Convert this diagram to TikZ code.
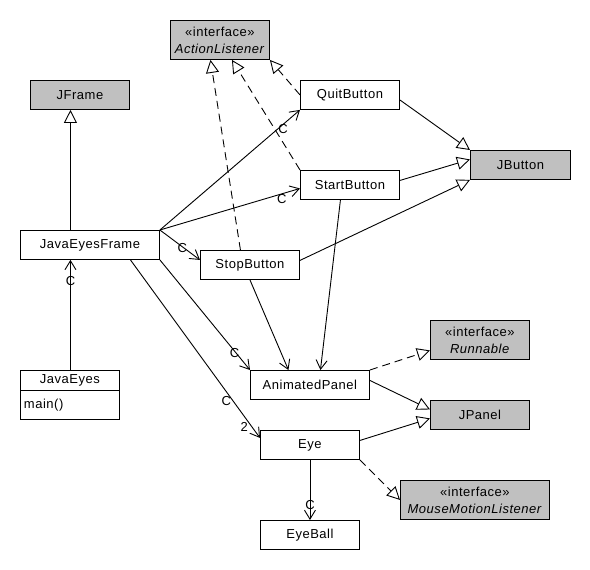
\documentclass[tikz,border=0pt]{standalone}
\usepackage{fontspec}
\setmainfont{Liberation Sans}[LetterSpace=4]
\usepackage{tikz}
\usetikzlibrary{arrows.meta,positioning}
\usepackage{xcolor}
\definecolor{umlgray}{RGB}{192,192,192}
\tikzstyle{cls} = [draw, line width=0.9pt, minimum width=99pt, minimum height=29pt, anchor=north west, inner sep=0pt, font=\fontsize{13}{15}\selectfont]
\tikzstyle{lib} = [cls, fill=umlgray]
\tikzstyle{iface} = [lib, minimum height=39pt, align=center, font=\fontsize{13}{17}\selectfont]
\tikzstyle{assoc} = [line width=0.9pt, -{Straight Barb[length=9pt,width=11pt]}]
\tikzstyle{inherit} = [line width=0.9pt, -{Triangle[open,length=13pt,width=13pt]}]
\tikzstyle{realize} = [inherit, dash pattern=on 8pt off 5pt]
\tikzstyle{mult} = [font=\fontsize{13}{13}\selectfont, inner sep=0pt]

\begin{document}
\begin{tikzpicture}[x=1pt, y=-1pt]
\useasboundingbox (0,0) rectangle (590,570);
% Classes
\node[lib] (jframe) at (30,80) {JFrame};
\node[iface] (listener) at (170,20) {«interface»\\\textit{ActionListener}};
\node[cls] (quit) at (300,80) {QuitButton};
\node[cls] (start) at (300,170) {StartButton};
\node[lib, minimum width=100pt] (jbutton) at (470,150) {JButton};
\node[cls, minimum width=139pt] (frame) at (20,230) {JavaEyesFrame};
\node[cls] (stop) at (200,250) {StopButton};
\node[cls, minimum height=20pt] (javaeyes) at (20,370) {JavaEyes};
\node[cls, text width=92pt, inner xsep=3.5pt, align=left] (javaeyesops) at (20,390) {main()};
\node[iface] (runnable) at (430,320) {«interface»\\\textit{Runnable}};
\node[cls, minimum width=119pt] (anim) at (250,370) {AnimatedPanel};
\node[lib] (jpanel) at (430,400) {JPanel};
\node[cls] (eye) at (260,430) {Eye};
\node[iface, minimum width=149pt] (mml) at (400,480) {«interface»\\\textit{MouseMotionListener}};
\node[cls] (eyeball) at (260,520) {EyeBall};

% Inheritance
\draw[inherit] ([xshift=-19.5pt]frame.north) -- ([xshift=-9.5pt]jframe.south);
\draw[inherit] ([yshift=-5pt]quit.east) -- (jbutton.north west);
\draw[inherit] ([yshift=4.5pt]start.east) -- ([yshift=5.5pt]jbutton.west);
\draw[inherit] ([yshift=4.5pt]stop.east) -- (jbutton.south west);
\draw[inherit] ([yshift=4.5pt]anim.east) -- ([yshift=5.5pt]jpanel.west);
\draw[inherit] ([yshift=4.5pt]eye.east) -- ([yshift=-3.5pt]jpanel.west);

% Interfaces
\draw[realize] (quit.west) -- (listener.south east);
\draw[realize] (start.north west) -- ([xshift=12pt]listener.south);
\draw[realize] ([xshift=-9.5pt]stop.north) -- ([xshift=-9.5pt]listener.south);
\draw[realize] (anim.north east) -- ([yshift=-10.5pt]runnable.west);
\draw[realize] (eye.south east) -- (mml.west);

% Associations
\draw[assoc] ([xshift=0.5pt]javaeyes.north) -- node[mult, pos=0.81] {C} ([xshift=-19.5pt]frame.south);
\draw[assoc] (frame.north east) -- node[mult, pos=0.88, yshift=-5pt] {C} (quit.south west);
\draw[assoc] (frame.north east) -- node[mult, pos=0.87, yshift=-5pt] {C} ([yshift=-3.5pt]start.west);
\draw[assoc] (frame.north east) -- node[mult, pos=0.56, yshift=-1pt] {C} ([yshift=5pt]stop.west);
\draw[assoc] (frame.south east) -- node[mult, pos=0.85, xshift=-2pt] {C} (anim.north west);
\draw[assoc] ([xshift=40.5pt]frame.south) -- node[mult, pos=0.77, xshift=-4pt, yshift=-4pt] {C}
    node[mult, pos=0.94, xshift=-8pt] {2} ([yshift=7pt]eye.west);
\draw[assoc] ([xshift=-9.5pt]start.south) -- ([xshift=10.5pt]anim.north);
\draw[assoc] (stop.south) -- ([xshift=-21.5pt]anim.north);
\draw[assoc] (eye.south) -- node[mult, pos=0.75] {C} (eyeball.north);
\end{tikzpicture}
\end{document}
